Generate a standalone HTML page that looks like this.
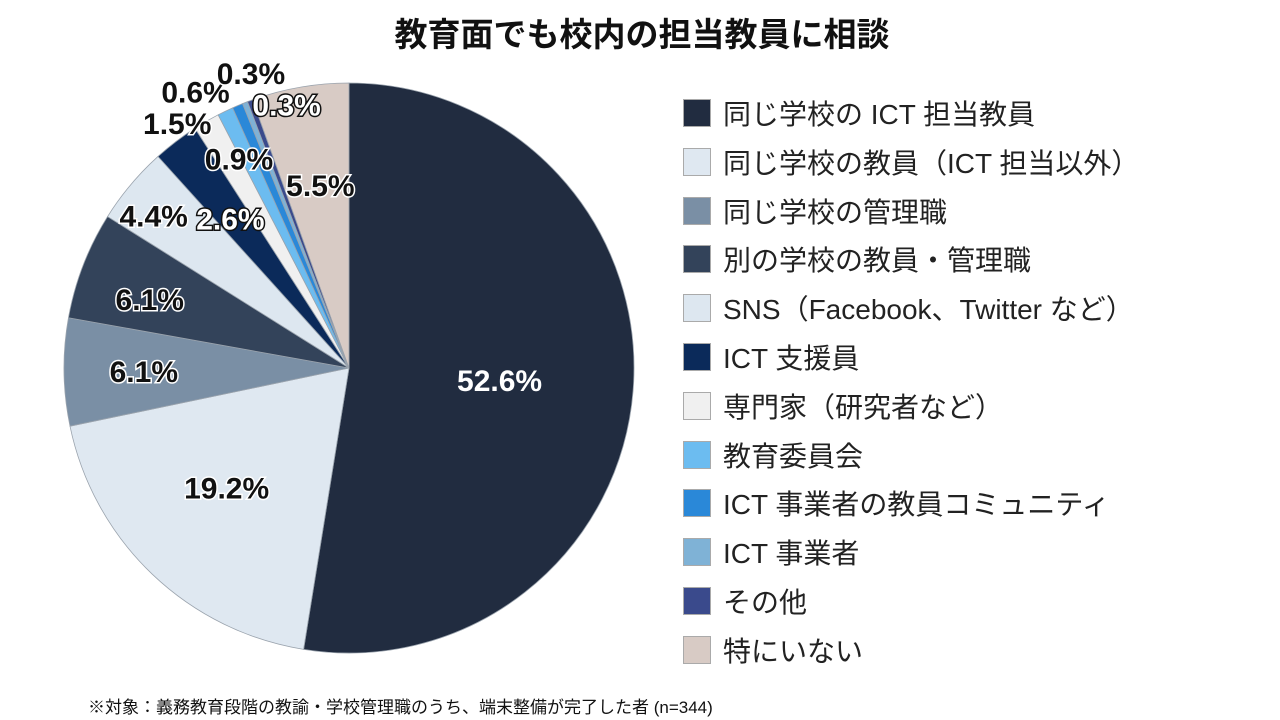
<!DOCTYPE html>
<html><head><meta charset="utf-8"><style>
body{margin:0;width:1280px;height:720px;background:#fff;overflow:hidden;font-family:"Liberation Sans","Noto Sans CJK JP",sans-serif}
#title{position:absolute;left:0;width:1284px;top:8px;text-align:center;font-size:33px;font-weight:bold;color:#111}
#foot{position:absolute;left:88px;top:693px;font-size:17px;color:#111}
.lg{position:absolute;left:683px;height:30px;display:flex;align-items:center;font-size:28px;color:#222;white-space:nowrap}
.sw{width:28px;height:28px;margin-right:12px;box-sizing:border-box;border:1px solid #aaa}
</style></head><body>
<div id="title">教育面でも校内の担当教員に相談</div>
<svg id="pie" width="680" height="690" style="position:absolute;left:0;top:0"></svg>
<div id="legend"></div>
<div id="foot">※対象：義務教育段階の教諭・学校管理職のうち、端末整備が完了した者 (n=344)</div>
<script>
const categories=["同じ学校の ICT 担当教員","同じ学校の教員（ICT 担当以外）","同じ学校の管理職","別の学校の教員・管理職","SNS（Facebook、Twitter など）","ICT 支援員","専門家（研究者など）","教育委員会","ICT 事業者の教員コミュニティ","ICT 事業者","その他","特にいない"];
const values=[52.6,19.2,6.1,6.1,4.4,2.6,1.5,0.9,0.6,0.3,0.3,5.5];
const valueLabels=["52.6%","19.2%","6.1%","6.1%","4.4%","2.6%","1.5%","0.9%","0.6%","0.3%","0.3%","5.5%"];
const colors=["#212c40","#dfe8f1","#7a8fa5","#33435a","#dde7f0","#0b2a5a","#f0f0f0","#6cbcf0","#2a88d8","#7fb2d6","#3a4a8c","#d8cbc5"];
const labelRadius=[0.53,0.6,0.72,0.74,0.87,0.67,1.05,0.83,1.11,1.09,0.95,0.65];
const labelAngleNudge=[0,2,0,-2,-2,-1,-5,-2,-6,3,7,1];
const labelFill=["#fff","#111","#111","#111","#111","#fff","#111","#111","#111","#111","#fff","#111"];
const labelStroke=["none","#fff","#fff","#fff","#fff","#111","#fff","#fff","#fff","#fff","#111","#fff"];
const cx=349,cy=368,R=285,NS="http://www.w3.org/2000/svg";
const svg=document.getElementById('pie');
const total=values.reduce((a,b)=>a+b,0);
function pt(deg,r){const a=deg*Math.PI/180;return [cx+r*Math.sin(a),cy-r*Math.cos(a)];}
let acc=0;const mids=[];
values.forEach((v,i)=>{
 const a0=acc/total*360;acc+=v;const a1=acc/total*360;mids.push((a0+a1)/2);
 const p0=pt(a0,R),p1=pt(a1,R);
 const p=document.createElementNS(NS,'path');
 p.setAttribute('d',`M${cx},${cy}L${p0[0]},${p0[1]}A${R},${R} 0 ${a1-a0>180?1:0} 1 ${p1[0]},${p1[1]}Z`);
 p.setAttribute('fill',colors[i]);p.setAttribute('stroke','#9aa3ad');p.setAttribute('stroke-width','0.8');
 
 
 svg.appendChild(p);
});
values.forEach((v,i)=>{
 const q=pt(mids[i]+labelAngleNudge[i],R*labelRadius[i]);
 const t=document.createElementNS(NS,'text');
 t.setAttribute('x',q[0]);t.setAttribute('y',q[1]+11);t.setAttribute('text-anchor','middle');
 t.setAttribute('font-size','30');t.setAttribute('font-weight','bold');t.setAttribute('font-family','"Liberation Sans",sans-serif');
 t.setAttribute('fill',labelFill[i]);
 if(labelStroke[i]!=='none'){t.setAttribute('stroke',labelStroke[i]);t.setAttribute('stroke-width','3');t.setAttribute('paint-order','stroke');}
 t.textContent=valueLabels[i];
 
 
 svg.appendChild(t);
});
const lg=document.getElementById('legend');
categories.forEach((c,i)=>{
 const d=document.createElement('div');d.className='lg';d.style.top=(98+i*48.8)+'px';
 
 
 d.innerHTML=`<span class="sw" style="background:${colors[i]}"></span><span>${c}</span>`;
 lg.appendChild(d);
});
</script>
</body></html>
